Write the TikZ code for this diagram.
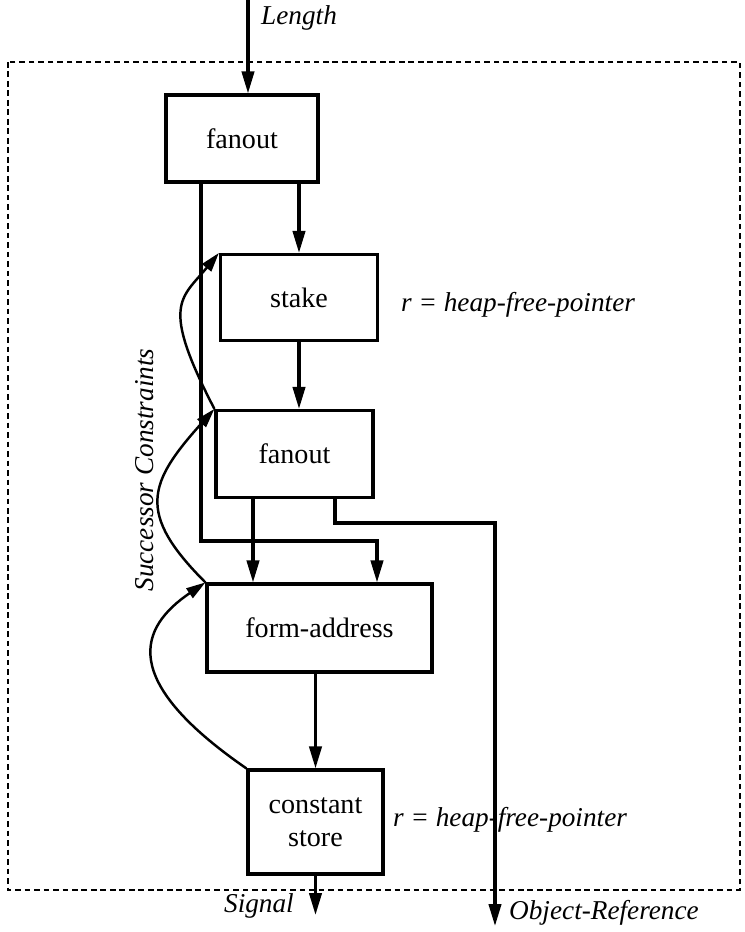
\documentclass[tikz,border=0pt]{standalone}
\usepackage{fontspec}
\setmainfont{Liberation Serif}
\usetikzlibrary{arrows.meta}

\begin{document}
\begin{tikzpicture}[x=2cm,y=2cm,
  blk/.style={draw,line width=1.8pt,inner sep=0pt,align=center,font=\fontsize{16}{19}\selectfont},
  arr/.style={line width=1.8pt,-{Triangle[length=12.5pt,width=7pt]}},
  succ/.style={line width=1.4pt,-{Triangle[length=11pt,width=6.5pt]}},
  lbl/.style={font=\fontsize{15.5}{18}\selectfont\itshape}]
  \useasboundingbox (0,0) rectangle (7.44,-9.32);
  \draw[line width=1.6pt,dash pattern=on 3.2pt off 2.2pt] (0.08,-0.62) rectangle (7.40,-8.90);

  \node[blk,minimum width=3.04cm,minimum height=1.74cm] (fan1) at (2.42,-1.385) {fanout};
  \node[blk,minimum width=3.14cm,minimum height=1.72cm] (stake) at (2.99,-2.975) {stake};
  \node[blk,minimum width=3.14cm,minimum height=1.74cm] (fan2) at (2.945,-4.54) {fanout};
  \node[blk,minimum width=4.5cm,minimum height=1.76cm] (form) at (3.195,-6.28) {form-address};
  \node[blk,minimum width=2.7cm,minimum height=2.08cm] (store) at (3.155,-8.22) {constant\\store};

  \node[lbl,anchor=west] (lenlbl) at (2.55,-0.18) {Length};
  \node[lbl,anchor=west] (stakelbl) at (3.95,-3.05) {r = heap-free-pointer};
  \node[lbl,anchor=west] (storelbl) at (3.87,-8.2) {r = heap-free-pointer};
  \node[lbl,anchor=east] (siglbl) at (3.00,-9.06) {Signal};
  \node[lbl,anchor=west] (objlbl) at (5.03,-9.13) {Object-Reference};
  \node[lbl,rotate=90] (succlbl) at (1.45,-4.70) {Successor Constraints};

  \coordinate (len) at (2.48,0);
  \coordinate (lw) at (2.01,-5.41);
  \coordinate (lwe) at (3.77,-5.41);
  \coordinate (mw) at (2.53,-5.0);
  \coordinate (rw) at (3.35,-5.23);
  \coordinate (rwe) at (4.95,-5.23);
  \coordinate (objref) at (4.95,-9.26);
  \coordinate (sig) at (3.155,-9.15);

  \draw[arr] (len) -- (len |- fan1.north);
  \draw[arr] (stake.north |- fan1.south) -- (stake.north);
  \draw[arr] (stake.south) -- (stake.south |- fan2.north);
  \draw[arr] (lw |- fan1.south) -- (lw) -- (lwe) -- (lwe |- form.north);
  \draw[arr] (mw |- fan2.south) -- (mw |- form.north);
  \draw[arr] (rw |- fan2.south) -- (rw) -- (rwe) -- (objref);
  \draw[arr] (store.north |- form.south) -- (store.north);
  \draw[arr] (store.south) -- (sig);

  \draw[succ] (fan2.north west) .. controls (1.60,-3.04) and (1.81,-2.99) .. (stake.north west);
  \draw[succ] (form.north west) .. controls (1.36,-5.13) and (1.48,-4.83) .. (fan2.north west);
  \draw[succ] (store.north west) .. controls (1.17,-6.79) and (1.40,-6.27) .. (form.north west);
\end{tikzpicture}
\end{document}
